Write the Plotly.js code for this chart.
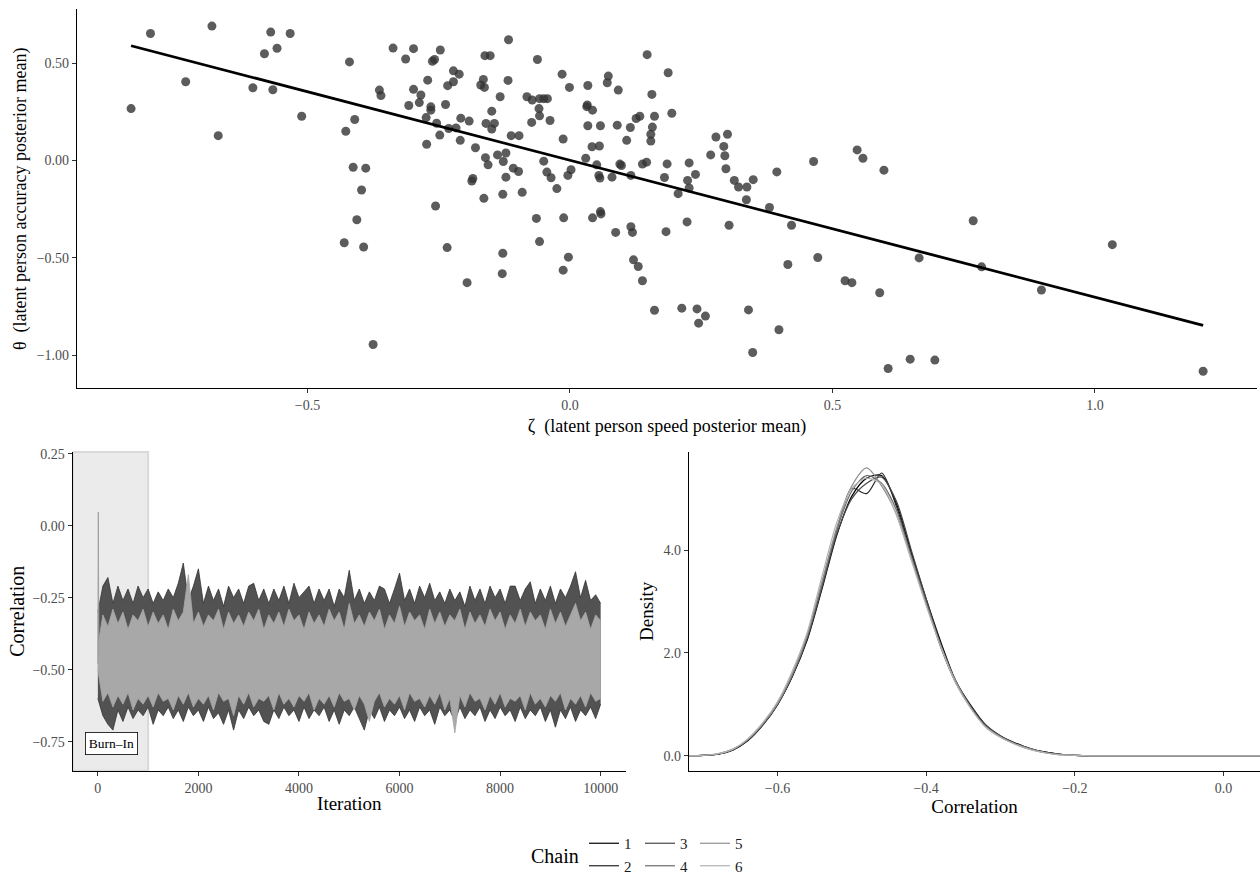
<!DOCTYPE html>
<html>
<head>
<meta charset="utf-8">
<script src="https://cdn.plot.ly/plotly-3.0.1.min.js"></script>
<style>html,body{margin:0;padding:0;background:#fff}#chart{width:1260px;height:882px}</style>
</head>
<body>
<div id="chart"></div>
<script>
// ---------- Top panel: person posterior means ----------
const speedMean = [
 -0.799,-0.682,-0.570,-0.533,-0.582,-0.558,-0.420,-0.732,-0.604,-0.566,-0.836,-0.511,-0.410,-0.427,-0.670,-0.413,-0.389,-0.397,-0.406,-0.430,-0.393,-0.375,
 -0.117,-0.337,-0.298,-0.247,-0.313,-0.262,-0.258,-0.162,-0.152,-0.062,-0.015,0.073,0.071,-0.222,-0.211,-0.271,-0.222,-0.233,-0.165,-0.170,-0.163,-0.118,-0.001,0.034,0.092,-0.363,
 -0.360,-0.298,-0.284,-0.287,-0.307,-0.265,-0.265,-0.237,-0.274,-0.254,-0.231,-0.217,-0.208,-0.192,-0.248,-0.209,-0.273,-0.133,-0.149,-0.160,-0.144,-0.149,-0.082,-0.072,-0.058,-0.050,
 -0.043,-0.059,-0.058,-0.073,-0.038,-0.112,-0.097,-0.180,-0.013,0.032,0.033,0.043,0.034,0.058,0.090,0.042,0.056,0.030,0.051,0.055,0.057,0.080,
 -0.138,-0.122,-0.161,-0.127,-0.156,-0.108,-0.098,-0.122,-0.050,-0.044,-0.036,-0.025,0.002,-0.004,-0.185,-0.187,-0.164,-0.128,-0.091,-0.256,-0.064,-0.012,0.043,0.059,0.058,0.087,-0.058,-0.234,-0.128,-0.003,-0.013,-0.129,-0.196,
 0.147,0.187,0.156,0.194,0.115,0.126,0.133,0.161,0.157,0.154,0.154,0.108,
 0.095,0.098,0.116,0.138,0.146,0.185,0.180,0.206,0.227,0.239,0.224,0.227,0.268,0.278,0.300,0.293,0.295,0.297,0.313,0.321,0.337,0.349,0.336,0.380,0.394,0.464,0.422,0.303,0.223,0.183,0.116,0.119,
 0.121,0.130,0.138,0.161,0.213,0.242,0.258,0.245,0.340,0.398,0.348,0.415,0.472,0.524,0.537,0.547,0.558,
 0.598,0.768,1.033,0.665,0.784,0.898,0.590,0.648,0.695,0.606,1.206
];
const accuracyMean = [
 0.652,0.690,0.659,0.652,0.548,0.576,0.506,0.404,0.373,0.363,0.266,0.227,0.210,0.150,0.127,-0.035,-0.040,-0.152,-0.305,-0.423,-0.445,-0.946,
 0.620,0.577,0.574,0.567,0.521,0.509,0.518,0.538,0.538,0.518,0.443,0.433,0.399,0.460,0.443,0.412,0.404,0.384,0.416,0.387,0.375,0.411,0.375,0.385,0.361,0.361,
 0.333,0.365,0.336,0.297,0.282,0.275,0.258,0.287,0.220,0.191,0.164,0.167,0.217,0.202,0.130,0.103,0.083,0.327,0.253,0.190,0.190,0.161,0.327,0.310,0.317,0.317,
 0.317,0.266,0.229,0.195,0.205,0.127,0.127,0.065,0.110,0.276,0.285,0.258,0.178,0.178,0.181,0.070,0.074,0.011,-0.023,-0.077,-0.091,-0.086,
 0.028,0.038,0.014,-0.006,-0.023,-0.040,-0.057,-0.086,-0.004,-0.060,-0.089,-0.145,-0.048,-0.077,-0.093,-0.106,-0.195,-0.174,-0.164,-0.234,-0.298,-0.295,-0.295,-0.275,-0.263,-0.370,-0.417,-0.448,-0.477,-0.497,-0.564,-0.582,-0.628,
 0.543,0.450,0.339,0.242,0.169,0.215,0.227,0.227,0.171,0.134,0.099,0.103,
 -0.019,-0.026,-0.077,-0.019,-0.009,-0.018,-0.088,-0.171,-0.013,-0.072,-0.103,-0.142,0.028,0.120,0.134,0.072,0.024,-0.043,-0.103,-0.137,-0.137,-0.099,-0.202,-0.242,-0.059,-0.006,-0.333,-0.333,-0.316,-0.366,-0.341,-0.370,
 -0.511,-0.545,-0.618,-0.770,-0.759,-0.763,-0.800,-0.836,-0.768,-0.870,-0.987,-0.535,-0.499,-0.618,-0.628,0.054,0.011,
 -0.050,-0.310,-0.433,-0.501,-0.547,-0.666,-0.680,-1.021,-1.026,-1.069,-1.083
];
const fitX = [-0.836, 1.206];
const fitY = [0.589, -0.848];

// ---------- Bottom left: trace plot (envelopes read every 100 iterations) ----------
const iterations = [0,100,200,300,400,500,600,700,800,900,1000,1100,1200,1300,1400,1500,1600,1700,1800,1900,
 2000,2100,2200,2300,2400,2500,2600,2700,2800,2900,3000,3100,3200,3300,3400,3500,3600,3700,3800,3900,
 4000,4100,4200,4300,4400,4500,4600,4700,4800,4900,5000,5100,5200,5300,5400,5500,5600,5700,5800,5900,
 6000,6100,6200,6300,6400,6500,6600,6700,6800,6900,7000,7100,7200,7300,7400,7500,7600,7700,7800,7900,
 8000,8100,8200,8300,8400,8500,8600,8700,8800,8900,9000,9100,9200,9300,9400,9500,9600,9700,9800,9900,10000];
const darkUpper = [-0.30,-0.21,-0.18,-0.27,-0.21,-0.26,-0.22,-0.27,-0.21,-0.25,
 -0.22,-0.27,-0.23,-0.26,-0.22,-0.25,-0.20,-0.13,-0.26,-0.21,
 -0.15,-0.27,-0.21,-0.26,-0.22,-0.28,-0.21,-0.25,-0.22,-0.27,
 -0.21,-0.20,-0.26,-0.22,-0.27,-0.22,-0.26,-0.21,-0.27,-0.20,
 -0.25,-0.23,-0.21,-0.27,-0.22,-0.26,-0.22,-0.28,-0.22,-0.25,
 -0.155,-0.26,-0.22,-0.27,-0.23,-0.26,-0.21,-0.22,-0.27,-0.22,
 -0.165,-0.26,-0.22,-0.27,-0.21,-0.25,-0.20,-0.26,-0.23,-0.27,
 -0.22,-0.26,-0.23,-0.28,-0.21,-0.26,-0.22,-0.27,-0.21,-0.25,
 -0.22,-0.27,-0.21,-0.21,-0.26,-0.22,-0.195,-0.27,-0.22,-0.26,
 -0.21,-0.27,-0.22,-0.25,-0.21,-0.16,-0.25,-0.19,-0.26,-0.24,
 -0.27];
const darkLower = [-0.60,-0.66,-0.69,-0.71,-0.64,-0.68,-0.63,-0.67,-0.64,-0.66,
 -0.63,-0.69,-0.64,-0.66,-0.63,-0.67,-0.64,-0.68,-0.63,-0.66,
 -0.64,-0.68,-0.63,-0.67,-0.65,-0.69,-0.64,-0.71,-0.64,-0.67,
 -0.63,-0.66,-0.64,-0.68,-0.69,-0.64,-0.67,-0.63,-0.66,-0.64,
 -0.68,-0.63,-0.67,-0.64,-0.66,-0.63,-0.68,-0.64,-0.69,-0.64,
 -0.66,-0.63,-0.67,-0.71,-0.64,-0.67,-0.63,-0.68,-0.64,-0.66,
 -0.63,-0.67,-0.64,-0.68,-0.63,-0.66,-0.64,-0.69,-0.63,-0.66,
 -0.64,-0.68,-0.63,-0.67,-0.64,-0.66,-0.63,-0.68,-0.64,-0.67,
 -0.63,-0.66,-0.64,-0.68,-0.63,-0.67,-0.64,-0.66,-0.63,-0.68,
 -0.64,-0.70,-0.64,-0.67,-0.63,-0.68,-0.64,-0.66,-0.63,-0.67,
 -0.62];
const lightUpper = [-0.42,
 -0.31,-0.35,-0.29,-0.34,-0.30,-0.36,-0.31,-0.33,-0.29,-0.35,
 -0.30,-0.34,-0.31,-0.36,-0.29,-0.33,-0.30,-0.17,-0.34,-0.30,
 -0.35,-0.31,-0.33,-0.29,-0.36,-0.30,-0.34,-0.31,-0.35,-0.30,
 -0.33,-0.29,-0.36,-0.31,-0.34,-0.30,-0.35,-0.29,-0.33,-0.31,
 -0.36,-0.30,-0.34,-0.31,-0.35,-0.29,-0.33,-0.30,-0.36,-0.27,
 -0.34,-0.31,-0.35,-0.30,-0.33,-0.29,-0.36,-0.31,-0.34,-0.28,
 -0.35,-0.30,-0.33,-0.31,-0.36,-0.29,-0.34,-0.30,-0.35,-0.31,
 -0.33,-0.29,-0.36,-0.30,-0.34,-0.31,-0.35,-0.29,-0.33,-0.30,
 -0.36,-0.31,-0.34,-0.29,-0.35,-0.30,-0.33,-0.31,-0.36,-0.29,
 -0.34,-0.30,-0.35,-0.31,-0.27,-0.33,-0.30,-0.36,-0.31,-0.33];
const lightLower = [-0.50,
 -0.61,-0.58,-0.63,-0.59,-0.62,-0.58,-0.64,-0.60,-0.62,-0.59,
 -0.63,-0.58,-0.61,-0.60,-0.64,-0.59,-0.62,-0.58,-0.63,-0.60,
 -0.62,-0.59,-0.64,-0.58,-0.61,-0.60,-0.66,-0.59,-0.62,-0.58,
 -0.63,-0.60,-0.61,-0.59,-0.64,-0.58,-0.62,-0.60,-0.63,-0.59,
 -0.61,-0.58,-0.64,-0.60,-0.62,-0.59,-0.63,-0.58,-0.61,-0.60,
 -0.64,-0.59,-0.62,-0.68,-0.61,-0.58,-0.63,-0.60,-0.62,-0.59,
 -0.64,-0.58,-0.61,-0.60,-0.63,-0.59,-0.62,-0.58,-0.64,-0.60,
 -0.72,-0.59,-0.63,-0.58,-0.61,-0.60,-0.64,-0.59,-0.62,-0.58,
 -0.63,-0.60,-0.61,-0.59,-0.64,-0.58,-0.62,-0.60,-0.63,-0.59,
 -0.61,-0.58,-0.64,-0.60,-0.62,-0.59,-0.63,-0.58,-0.61,-0.60];
const startIter = [0, 10, 20];
const startValue = [-0.48, 0.047, -0.45];

// ---------- Bottom right: posterior densities per chain ----------
const densX = [-0.72,-0.70,-0.68,-0.66,-0.64,-0.62,-0.60,-0.58,-0.56,-0.54,-0.52,-0.50,-0.48,-0.46,-0.44,-0.42,-0.40,-0.38,-0.36,-0.34,
 -0.32,-0.30,-0.28,-0.26,-0.24,-0.22,-0.20,-0.18,-0.16,-0.14,-0.12,-0.10,-0.08,-0.06,-0.04,-0.02,0.00,0.02,0.04,0.06];
const density1 = [0.00,0.01,0.03,0.11,0.29,0.59,0.99,1.54,2.25,3.25,4.30,5.05,5.40,5.45,4.90,3.95,3.05,2.20,1.45,0.98,0.60,0.38,0.25,0.14,0.07,0.03,0.01,0,0,0,0,0,0,0,0,0,0,0,0,0];
const density2 = [0.00,0.01,0.03,0.12,0.30,0.60,1.00,1.55,2.30,3.30,4.40,5.20,5.10,5.50,4.85,3.90,3.00,2.10,1.42,0.95,0.58,0.37,0.23,0.13,0.07,0.03,0.01,0,0,0,0,0,0,0,0,0,0,0,0,0];
const density3 = [0.00,0.01,0.03,0.12,0.30,0.60,1.00,1.56,2.28,3.28,4.32,5.00,5.30,5.42,4.95,4.00,3.05,2.15,1.45,0.96,0.60,0.39,0.24,0.14,0.07,0.03,0.01,0,0,0,0,0,0,0,0,0,0,0,0,0];
const density4 = [0.00,0.01,0.04,0.12,0.31,0.61,1.01,1.57,2.32,3.35,4.40,5.15,5.45,5.30,4.78,3.88,2.98,2.12,1.42,0.93,0.57,0.37,0.23,0.13,0.06,0.03,0.01,0,0,0,0,0,0,0,0,0,0,0,0,0];
const density5 = [0.00,0.01,0.04,0.13,0.32,0.62,1.02,1.60,2.35,3.40,4.45,5.25,5.60,5.25,4.70,3.85,2.95,2.12,1.44,0.94,0.56,0.36,0.23,0.13,0.06,0.02,0.01,0,0,0,0,0,0,0,0,0,0,0,0,0];
const density6 = [0.00,0.01,0.04,0.13,0.33,0.64,1.05,1.65,2.40,3.50,4.55,5.20,5.40,5.28,4.68,3.80,2.92,2.10,1.40,0.92,0.56,0.36,0.22,0.12,0.06,0.02,0.01,0,0,0,0,0,0,0,0,0,0,0,0,0];
const chainNames = ['1','2','3','4','5','6'];
const chainColors = ['#000000','#242424','#474747','#6b6b6b','#8f8f8f','#b3b3b3'];

// ---------- build ----------
const SERIF = "'Liberation Serif', 'Times New Roman', serif";
const W = 1260, H = 882;
const traces = [];

traces.push({x: speedMean, y: accuracyMean, type: 'scatter', mode: 'markers', xaxis: 'x', yaxis: 'y',
  marker: {size: 9, color: 'rgba(51,51,51,0.8)', line: {width: 0}}, showlegend: false, hoverinfo: 'skip'});
traces.push({x: fitX, y: fitY, type: 'scatter', mode: 'lines', xaxis: 'x', yaxis: 'y',
  line: {color: '#000', width: 2.8}, showlegend: false, hoverinfo: 'skip'});

traces.push({x: iterations, y: darkLower, type: 'scatter', mode: 'lines', xaxis: 'x2', yaxis: 'y2',
  line: {color: '#333333', width: 0.8}, showlegend: false, hoverinfo: 'skip'});
traces.push({x: iterations, y: darkUpper, type: 'scatter', mode: 'lines', xaxis: 'x2', yaxis: 'y2', fill: 'tonexty',
  fillcolor: '#525252', line: {color: '#333333', width: 0.8}, showlegend: false, hoverinfo: 'skip'});
traces.push({x: iterations, y: lightLower, type: 'scatter', mode: 'lines', xaxis: 'x2', yaxis: 'y2',
  line: {color: '#a8a8a8', width: 0.8}, showlegend: false, hoverinfo: 'skip'});
traces.push({x: iterations, y: lightUpper, type: 'scatter', mode: 'lines', xaxis: 'x2', yaxis: 'y2', fill: 'tonexty',
  fillcolor: '#a8a8a8', line: {color: '#a8a8a8', width: 0.8}, showlegend: false, hoverinfo: 'skip'});
traces.push({x: startIter, y: startValue, type: 'scatter', mode: 'lines', xaxis: 'x2', yaxis: 'y2',
  line: {color: '#a0a0a0', width: 1}, showlegend: false, hoverinfo: 'skip'});

const densities = [density1, density2, density3, density4, density5, density6];
const legendIds = ['legend', 'legend', 'legend2', 'legend2', 'legend3', 'legend3'];
densities.forEach((d, i) => {
  traces.push({x: densX, y: d, type: 'scatter', mode: 'lines', xaxis: 'x3', yaxis: 'y3',
    name: chainNames[i], legend: legendIds[i], legendgroup: 'chain' + chainNames[i],
    line: {color: chainColors[i], width: 1.2, shape: 'spline', smoothing: 0.8}, hoverinfo: 'skip'});
});

const tickFont = {family: SERIF, size: 14, color: '#4d4d4d'};
function ax(extra) {
  return Object.assign({showgrid: false, zeroline: false, showline: true, linecolor: '#000', linewidth: 1.1,
    ticks: 'outside', ticklen: 4, tickwidth: 1, tickcolor: '#333', tickfont: tickFont, fixedrange: true}, extra);
}
const legendBase = {orientation: 'v', traceorder: 'normal', bgcolor: 'rgba(0,0,0,0)', borderwidth: 0, tracegroupgap: 2,
  font: {family: SERIF, size: 15, color: '#1a1a1a'}, yanchor: 'top', xanchor: 'left', y: 1 - 833 / H};

const layout = {
  width: W, height: H, margin: {l: 0, r: 0, t: 0, b: 0},
  paper_bgcolor: '#fff', plot_bgcolor: '#fff',
  font: {family: SERIF, color: '#000'},
  showlegend: true,
  xaxis: ax({domain: [77 / W, 1257 / W], range: [-0.939, 1.3086], anchor: 'y',
    tickvals: [-0.5, 0, 0.5, 1], tickformat: '.1f',
    title: {text: 'ζ  (latent person speed posterior mean)', font: {family: SERIF, size: 18, color: '#000'}, standoff: 7}}),
  yaxis: ax({domain: [1 - 391 / H, 1 - 9.3 / H], range: [-1.171, 0.7765], anchor: 'x',
    tickvals: [-1, -0.5, 0, 0.5], tickformat: '.2f',
    title: {text: 'θ  (latent person accuracy posterior mean)', font: {family: SERIF, size: 18, color: '#000'}, standoff: 5}}),
  xaxis2: ax({domain: [72.7 / W, 625.8 / W], range: [-500, 10500], anchor: 'y2',
    tickvals: [0, 2000, 4000, 6000, 8000, 10000], tickformat: 'd',
    title: {text: 'Iteration', font: {family: SERIF, size: 19, color: '#000'}, standoff: 2}}),
  yaxis2: ax({domain: [1 - 776 / H, 1 - 455 / H], range: [-0.851, 0.256], anchor: 'x2',
    tickvals: [-0.75, -0.5, -0.25, 0, 0.25], tickformat: '.2f',
    title: {text: 'Correlation', font: {family: SERIF, size: 20, color: '#000'}, standoff: 2}}),
  xaxis3: ax({domain: [689 / W, 1], range: [-0.719, 0.049], anchor: 'y3',
    tickvals: [-0.6, -0.4, -0.2, 0], tickformat: '.1f',
    title: {text: 'Correlation', font: {family: SERIF, size: 19, color: '#000'}, standoff: 2}}),
  yaxis3: ax({domain: [1 - 776 / H, 1 - 455 / H], range: [-0.29, 5.91], anchor: 'x3',
    tickvals: [0, 2, 4], tickformat: '.1f',
    title: {text: 'Density', font: {family: SERIF, size: 19, color: '#000'}, standoff: 4}}),
  legend: Object.assign({}, legendBase, {x: 584 / W}),
  legend2: Object.assign({}, legendBase, {x: 640 / W}),
  legend3: Object.assign({}, legendBase, {x: 695 / W}),
  shapes: [
    {type: 'rect', xref: 'x2', yref: 'y2 domain', x0: -500, x1: 1000, y0: 0, y1: 1,
     fillcolor: '#ebebeb', line: {color: '#d9d9d9', width: 2}, layer: 'below'}
  ],
  annotations: [
    {xref: 'x2', yref: 'y2', x: 266, y: -0.755, text: 'Burn–In', showarrow: false,
     font: {family: SERIF, size: 13.5, color: '#000'}, bgcolor: '#fff', bordercolor: '#000', borderwidth: 0.8, borderpad: 3},
    {xref: 'paper', yref: 'paper', x: 555 / W, y: 1 - 862 / H, text: 'Chain', showarrow: false,
     font: {family: SERIF, size: 20, color: '#000'}, xanchor: 'center', yanchor: 'middle'}
  ]
};

Plotly.newPlot('chart', traces, layout, {staticPlot: true, displayModeBar: false});
</script>
</body>
</html>
